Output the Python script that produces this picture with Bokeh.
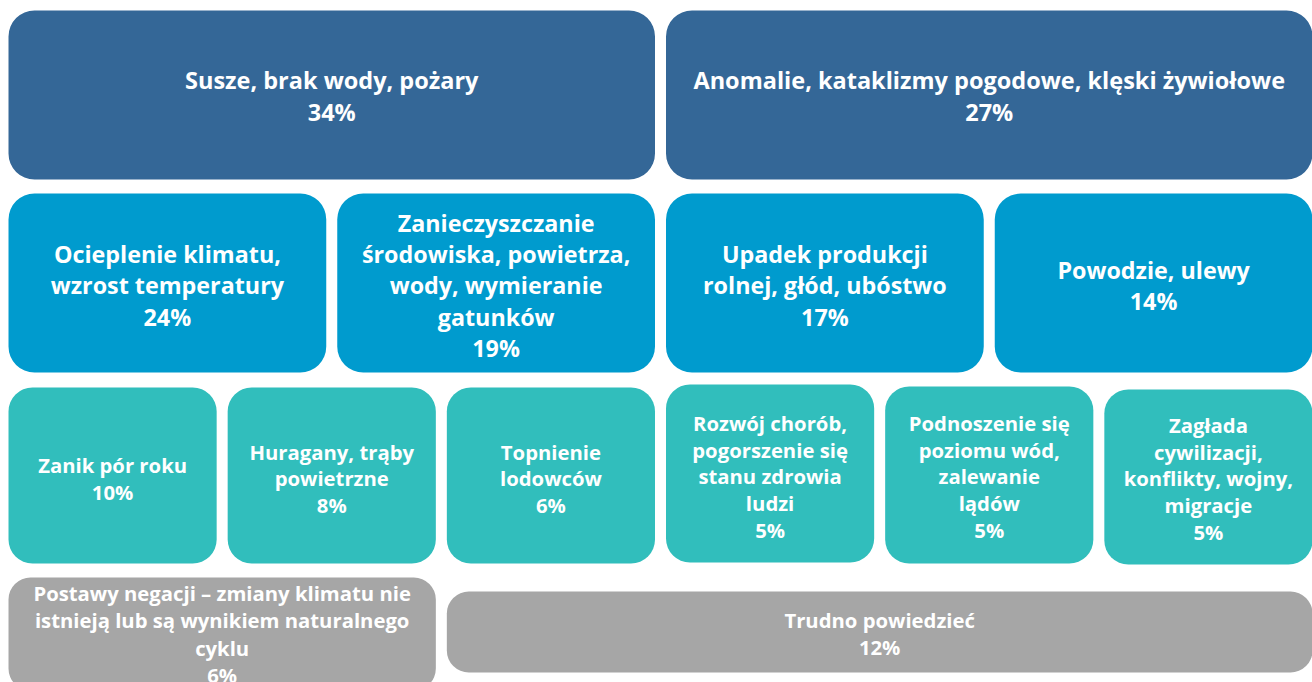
from bokeh.plotting import figure
from bokeh.models import Range1d, ColumnDataSource
from bokeh.core.properties import value
from bokeh.embed import file_html
from bokeh.resources import INLINE

# ---- data ----
labels = [
    "Susze, brak wody, pożary",
    "Anomalie, kataklizmy pogodowe, klęski żywiołowe",
    "Ocieplenie klimatu,\nwzrost temperatury",
    "Zanieczyszczanie\nśrodowiska, powietrza,\nwody, wymieranie\ngatunków",
    "Upadek produkcji\nrolnej, głód, ubóstwo",
    "Powodzie, ulewy",
    "Zanik pór roku",
    "Huragany, trąby\npowietrzne",
    "Topnienie\nlodowców",
    "Rozwój chorób,\npogorszenie się\nstanu zdrowia\nludzi",
    "Podnoszenie się\npoziomu wód,\nzalewanie\nlądów",
    "Zagłada\ncywilizacji,\nkonflikty, wojny,\nmigracje",
    "Postawy negacji – zmiany klimatu nie\nistnieją lub są wynikiem naturalnego\ncyklu",
    "Trudno powiedzieć",
]
values = [34, 27, 24, 19, 17, 14, 10, 8, 6, 5, 5, 5, 6, 12]
tiers = [0, 0, 1, 1, 1, 1, 2, 2, 2, 2, 2, 2, 3, 3]

# ---- layout / style ----
tier_colors = ["#346797", "#009BCE", "#31BEBC", "#A6A6A6"]
tier_font = ["23.5px", "23.3px", "20.3px", "20.3px"]
tier_lh = [1.0, 0.97, 0.95, 0.98]
tier_radius = [26, 26, 24, 22]
# 12-unit grid column start / span
col_start = [0, 6, 0, 3, 6, 9, 0, 2, 4, 6, 8, 10, 0, 4]
col_span = [6, 6, 3, 3, 3, 3, 2, 2, 2, 2, 2, 2, 4, 8]
box_top = [10, 10, 193, 193, 193, 193, 387, 387, 387, 384, 386, 389, 577, 591]
box_bot = [179, 179, 372, 372, 372, 372, 563, 563, 563, 562, 563, 564, 690, 672]
text_dy = [1, 1, 2.5, 2.5, 2.5, 2.5, 3, 3, 3, 3, 1.5, 1.5, 0, 1.5]

X0, X1, GAP = 8, 1312, 11
unit = (X1 - X0 + GAP) / 12.0

left = [X0 + s * unit for s in col_start]
right = [X0 + (s + n) * unit - GAP for s, n in zip(col_start, col_span)]

p = figure(width=1312, height=682, output_backend="svg", toolbar_location=None,
           x_range=Range1d(0, 1312), y_range=Range1d(682, 0),
           x_axis_type=None, y_axis_type=None, min_border=0,
           background_fill_color="white", border_fill_color="white")
p.outline_line_color = None
p.grid.visible = False

for t in range(4):
    idx = [i for i in range(len(labels)) if tiers[i] == t]
    src = ColumnDataSource(dict(
        left=[left[i] for i in idx], right=[right[i] for i in idx],
        top=[box_top[i] for i in idx], bottom=[box_bot[i] for i in idx],
    ))
    p.quad(left="left", right="right", top="top", bottom="bottom", source=src,
           fill_color=tier_colors[t], line_color="#FFFFFF", line_alpha=0.0,
           border_radius=tier_radius[t])

    tsrc = ColumnDataSource(dict(
        x=[(left[i] + right[i]) / 2 for i in idx],
        y=[(box_top[i] + box_bot[i]) / 2 + text_dy[i] for i in idx],
        text=[f"{labels[i]}\n{values[i]}%" for i in idx],
    ))
    p.text(x="x", y="y", text="text", source=tsrc,
           text_align="center", text_baseline="middle",
           text_color="white", text_font=value("Open Sans"),
           text_font_style="bold", text_font_size=tier_font[t],
           text_line_height=tier_lh[t])

open("out.html", "w").write(file_html(p, INLINE))
